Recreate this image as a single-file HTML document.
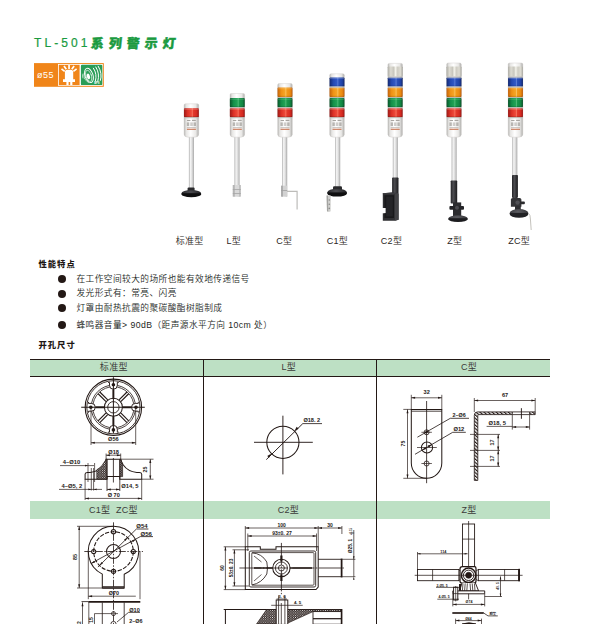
<!DOCTYPE html>
<html lang="zh-CN">
<head>
<meta charset="utf-8">
<title>TL-501系列警示灯</title>
<style>
html,body{margin:0;padding:0;background:#fff;}
body{width:603px;height:624px;position:relative;overflow:hidden;font-family:"Liberation Sans","Noto Sans CJK SC",sans-serif;color:#231815;}
.abs{position:absolute;white-space:nowrap;}
.title{left:34px;top:35px;font-size:12px;line-height:16px;color:#1a9a3f;letter-spacing:3.1px;-webkit-text-stroke:.2px #1a9a3f;}
.title b{font-weight:900;font-size:12.8px;letter-spacing:5.1px;margin-left:0.6px;position:relative;top:.6px;display:inline-block;transform:skewX(-6deg);-webkit-text-stroke:.45px #1a9a3f;}
.badge{left:34px;top:63px;width:70px;height:24px;background:#f08519;}
.badge span{position:absolute;left:3px;top:7px;font-size:9px;line-height:10px;color:#fff;letter-spacing:.2px;}
.lbl{font-size:9px;line-height:12px;top:235px;color:#2a2522;letter-spacing:.3px;font-weight:350;}
.h{font-weight:900;font-size:8.3px;line-height:12px;letter-spacing:1px;color:#1d1714;}
.li{left:76.5px;font-size:8.7px;line-height:12px;letter-spacing:.43px;color:#231f1c;font-weight:350;}
.dot{width:8px;height:8px;border-radius:50%;background:#231815;left:57.8px;margin-top:-.3px;}
.th{height:17px;background:#bde0c4;font-size:9px;line-height:17px;text-align:center;color:#3a3a38;letter-spacing:.3px;}
svg{position:absolute;left:0;top:0;}
svg text{font-family:"Liberation Sans","Noto Sans CJK SC",sans-serif;fill:#231815;}
</style>
</head>
<body>
<div class="abs title">TL-501<b>系列警示灯</b></div>
<div class="abs lbl" style="left:159.7px;width:60px;text-align:center">标准型</div>
<div class="abs lbl" style="left:203.8px;width:60px;text-align:center">L型</div>
<div class="abs lbl" style="left:254.3px;width:60px;text-align:center">C型</div>
<div class="abs lbl" style="left:307.4px;width:60px;text-align:center">C1型</div>
<div class="abs lbl" style="left:361.5px;width:60px;text-align:center">C2型</div>
<div class="abs lbl" style="left:424.8px;width:60px;text-align:center">Z型</div>
<div class="abs lbl" style="left:489.2px;width:60px;text-align:center">ZC型</div>
<div class="abs h" style="left:38.5px;top:258px">性能特点</div>
<div class="abs dot" style="top:275.7px"></div><div class="abs li" style="top:273.2px">在工作空间较大的场所也能有效地传递信号</div>
<div class="abs dot" style="top:289.9px"></div><div class="abs li" style="top:287.4px">发光形式有：常亮、闪亮</div>
<div class="abs dot" style="top:304.3px"></div><div class="abs li" style="top:301.8px">灯罩由耐热抗震的聚碳酸酯树脂制成</div>
<div class="abs dot" style="top:321.7px"></div><div class="abs li" style="top:319.2px">蜂鸣器音量&gt; 90dB（距声源水平方向 10cm 处）</div>
<div class="abs h" style="left:38.5px;top:339px">开孔尺寸</div>
<div class="abs" style="left:30px;top:358.6px;width:520px;height:1.1px;background:#231815"></div>
<div class="abs" style="left:30px;top:375.6px;width:520px;height:1.1px;background:#231815"></div>
<div class="abs th" style="left:30px;top:359.6px;width:520px;height:16px;"></div>
<div class="abs th" style="left:30px;top:501.3px;width:520px;height:17.3px;"></div>
<div class="abs" style="left:202.9px;top:359px;width:1.2px;height:265px;background:#231815"></div>
<div class="abs" style="left:375.59999999999997px;top:359px;width:1.2px;height:265px;background:#231815"></div>
<div class="abs" style="left:63.8px;width:100px;top:361px;font-size:9px;line-height:13px;text-align:center;color:#3b3a39;letter-spacing:.3px">标准型</div>
<div class="abs" style="left:238.8px;width:100px;top:361px;font-size:9px;line-height:13px;text-align:center;color:#3b3a39;letter-spacing:.3px">L型</div>
<div class="abs" style="left:419px;width:100px;top:361px;font-size:9px;line-height:13px;text-align:center;color:#3b3a39;letter-spacing:.3px">C型</div>
<div class="abs" style="left:63.4px;width:100px;top:503.5px;font-size:9px;line-height:13px;text-align:center;color:#3b3a39;letter-spacing:.3px">C1型&nbsp;&nbsp;ZC型</div>
<div class="abs" style="left:238.4px;width:100px;top:503.5px;font-size:9px;line-height:13px;text-align:center;color:#3b3a39;letter-spacing:.3px">C2型</div>
<div class="abs" style="left:419px;width:100px;top:503.5px;font-size:9px;line-height:13px;text-align:center;color:#3b3a39;letter-spacing:.3px">Z型</div>
<svg width="603" height="624" viewBox="0 0 603 624">
<g>
<rect x="34" y="63.1" width="69.8" height="23.7" fill="#f08519"/>
<rect x="58" y="64" width="44.8" height="21.8" fill="#fff"/>
<rect x="58.8" y="64.8" width="20.8" height="20.3" fill="#f08519"/>
<rect x="80.9" y="64.8" width="21.4" height="20.3" rx="1.2" fill="#2a9d57"/>
<g fill="#fff"><path d="M64.9 79.3 V72.2 Q64.9 69.7 67.4 69.7 H70.7 Q73.2 69.7 73.2 72.2 V79.3 H75 V82 H72.4 V84.9 H70.2 V82 H68.6 V84.9 H66.4 V82 H63 V79.3Z"/></g>
<g stroke="#fff" stroke-width="1.7" stroke-linecap="butt"><path d="M69.05 64.9 V69 M66.3 69.3 L64 66 M71.8 69.3 L74.1 66 M64.7 71.3 L61.5 68.8 M73.4 71.3 L76.6 68.8"/></g>
<g fill="none" stroke="#fff" stroke-linecap="round">
<ellipse cx="89" cy="75.4" rx="4" ry="7.4" transform="rotate(-18 89 75.4)" stroke-width=".95"/>
<ellipse cx="88.7" cy="75.8" rx="2.7" ry="5.8" transform="rotate(-18 88.7 75.8)" stroke-width=".6"/>
<ellipse cx="88.4" cy="76.5" rx="1.6" ry="3" transform="rotate(-18 88.4 76.5)" fill="#fff" stroke="none"/>
<path d="M93.4 68.2 Q97.4 74 95.4 81" stroke-width="1"/>
<path d="M95.8 67 Q100 73.6 97.8 81.2" stroke-width="1"/>
<path d="M98.2 66.2 Q102.6 73.4 100.4 80.4" stroke-width="1"/>
<path d="M84.4 73 Q83.2 75.6 84.4 78.6 M82.8 74 Q82 76 82.8 78" stroke-width=".6"/>
<path d="M85 79.2 Q86.6 81.8 88.8 82.6" stroke-width=".6"/>
</g>
<text x="94.2" y="84.4" font-size="2.6" font-weight="bold" style="fill:#fff" stroke="none">BPS</text>
<text x="37" y="78.4" font-size="9" style="fill:#fff" stroke="none" letter-spacing=".5">ø55</text>
</g>
<defs>
<linearGradient id="gBody" x1="0" x2="1" y1="0" y2="0"><stop offset="0" stop-color="#b4b3b1"/><stop offset=".14" stop-color="#e6e5e3"/><stop offset=".45" stop-color="#ffffff"/><stop offset=".8" stop-color="#e9e8e6"/><stop offset="1" stop-color="#adacaa"/></linearGradient>
<linearGradient id="gPole" x1="0" x2="1" y1="0" y2="0"><stop offset="0" stop-color="#a9a9a9"/><stop offset=".28" stop-color="#f6f6f6"/><stop offset=".55" stop-color="#e3e3e3"/><stop offset=".8" stop-color="#c9c9c9"/><stop offset="1" stop-color="#9d9d9d"/></linearGradient>
<linearGradient id="gR" x1="0" x2="1" y1="0" y2="0"><stop offset="0" stop-color="#9c1a17"/><stop offset=".25" stop-color="#dd3126"/><stop offset=".5" stop-color="#ee4a3a"/><stop offset=".56" stop-color="#f7735f"/><stop offset=".62" stop-color="#e53a2c"/><stop offset=".85" stop-color="#d42a21"/><stop offset="1" stop-color="#991815"/></linearGradient>
<linearGradient id="gG" x1="0" x2="1" y1="0" y2="0"><stop offset="0" stop-color="#09552a"/><stop offset=".25" stop-color="#14904a"/><stop offset=".5" stop-color="#22a356"/><stop offset=".56" stop-color="#52bd7b"/><stop offset=".62" stop-color="#199a4c"/><stop offset=".85" stop-color="#128543"/><stop offset="1" stop-color="#095027"/></linearGradient>
<linearGradient id="gO" x1="0" x2="1" y1="0" y2="0"><stop offset="0" stop-color="#c4620a"/><stop offset=".25" stop-color="#ef9215"/><stop offset=".5" stop-color="#f6a526"/><stop offset=".56" stop-color="#fbc462"/><stop offset=".62" stop-color="#f39b18"/><stop offset=".85" stop-color="#e98a12"/><stop offset="1" stop-color="#be5d09"/></linearGradient>
<linearGradient id="gB" x1="0" x2="1" y1="0" y2="0"><stop offset="0" stop-color="#142a72"/><stop offset=".25" stop-color="#2549b2"/><stop offset=".5" stop-color="#3259c6"/><stop offset=".56" stop-color="#5f80d8"/><stop offset=".62" stop-color="#2a50bb"/><stop offset=".85" stop-color="#2143a6"/><stop offset="1" stop-color="#12266a"/></linearGradient>
<linearGradient id="gC" x1="0" x2="1" y1="0" y2="0"><stop offset="0" stop-color="#aeada6"/><stop offset=".2" stop-color="#dddbd2"/><stop offset=".4" stop-color="#c9c7be"/><stop offset=".52" stop-color="#f3f2ea"/><stop offset=".66" stop-color="#cfcdc4"/><stop offset=".85" stop-color="#dedcd3"/><stop offset="1" stop-color="#a9a8a1"/></linearGradient>
<linearGradient id="gBlk" x1="0" x2="1" y1="0" y2="0"><stop offset="0" stop-color="#232326"/><stop offset=".4" stop-color="#4d4d51"/><stop offset="1" stop-color="#1b1b1d"/></linearGradient>
<radialGradient id="gBase" cx=".45" cy=".3" r=".7"><stop offset="0" stop-color="#4f4f54"/><stop offset="1" stop-color="#141416"/></radialGradient>
<radialGradient id="gBase2" cx=".45" cy=".3" r=".75"><stop offset="0" stop-color="#5d5d62"/><stop offset="1" stop-color="#27272a"/></radialGradient>
</defs>

<g>
<rect x="188.9" y="135.2" width="5" height="52.8" fill="url(#gPole)"/>
<path d="M184.1 105.2 Q184.1 103.8 185.5 103.8 H197.3 Q198.7 103.8 198.7 105.2 V134.2 Q198.7 137.2 194.7 137.2 H188.1 Q184.1 137.2 184.1 134.2 Z" fill="url(#gBody)" stroke="#c9c8c5" stroke-width=".4"/>
<rect x="183.95" y="108.2" width="14.9" height="9" rx=".9" fill="url(#gR)"/>
<rect x="184.1" y="108.9" width="14.6" height=".9" fill="#fff" opacity=".2"/>
<rect x="184.1" y="116" width="14.6" height="1.2" fill="#000" opacity=".12"/>
<rect x="184.1" y="117.2" width="14.6" height="1" fill="#b9b8b3"/>
<g fill="#a9a6a2"><rect x="187" y="120" width="3.4" height="1"/><rect x="192" y="119.8" width="3.8" height="1.2"/><rect x="186.8" y="122.4" width="2.4" height="3.6" opacity=".8"/><rect x="190.2" y="122.4" width="2.6" height="3.6" opacity=".55"/><rect x="193.6" y="122.4" width="2.4" height="3.6" opacity=".8"/><rect x="186.9" y="127" width="9" height=".8" opacity=".7"/></g>
<rect x="186.9" y="128.7" width="9" height="1.2" fill="#c6704c" opacity=".9"/>
</g>
<rect x="187.6" y="187.4" width="7" height="4" rx="1" fill="#2a2a2d"/><ellipse cx="191.3" cy="193.3" rx="9.8" ry="3.3" fill="url(#gBase)"/><path d="M181.5 193.3 v.9 a9.8 3 0 0 0 19.6 0 v-.9z" fill="#0f0f10"/>
<g>
<rect x="234.5" y="135.2" width="5" height="61.4" fill="url(#gPole)"/>
<path d="M230 94.9 Q230 93.5 231.4 93.5 H243.2 Q244.6 93.5 244.6 94.9 V134.2 Q244.6 137.2 240.6 137.2 H234 Q230 137.2 230 134.2 Z" fill="url(#gBody)" stroke="#c9c8c5" stroke-width=".4"/>
<rect x="229.85" y="98" width="14.9" height="9.2" rx=".9" fill="url(#gG)"/>
<rect x="230" y="98.7" width="14.6" height=".9" fill="#fff" opacity=".2"/>
<rect x="230" y="106" width="14.6" height="1.2" fill="#000" opacity=".12"/>
<rect x="229.85" y="108.2" width="14.9" height="9" rx=".9" fill="url(#gR)"/>
<rect x="230" y="108.9" width="14.6" height=".9" fill="#fff" opacity=".2"/>
<rect x="230" y="116" width="14.6" height="1.2" fill="#000" opacity=".12"/>
<rect x="230" y="107.2" width="14.6" height="1" fill="#b9b8b3"/>
<rect x="230" y="117.2" width="14.6" height="1" fill="#b9b8b3"/>
<g fill="#a9a6a2"><rect x="232.9" y="120" width="3.4" height="1"/><rect x="237.9" y="119.8" width="3.8" height="1.2"/><rect x="232.7" y="122.4" width="2.4" height="3.6" opacity=".8"/><rect x="236.1" y="122.4" width="2.6" height="3.6" opacity=".55"/><rect x="239.5" y="122.4" width="2.4" height="3.6" opacity=".8"/><rect x="232.8" y="127" width="9" height=".8" opacity=".7"/></g>
<rect x="232.8" y="128.7" width="9" height="1.2" fill="#c6704c" opacity=".9"/>
</g>
<rect x="232.8" y="185" width="8" height="11.6" fill="#d9d9d9"/><rect x="232.8" y="185" width="2" height="11.6" fill="#b5b5b5"/><rect x="239" y="185" width="1.8" height="11.6" fill="#c0c0c0"/><rect x="232.8" y="189" width="8" height=".8" fill="#a5a5a5"/><rect x="232.8" y="193" width="8" height=".8" fill="#a5a5a5"/>
<g>
<rect x="282.2" y="135.2" width="5" height="61.4" fill="url(#gPole)"/>
<path d="M277.7 85 Q277.7 83.6 279.1 83.6 H290.9 Q292.3 83.6 292.3 85 V134.2 Q292.3 137.2 288.3 137.2 H281.7 Q277.7 137.2 277.7 134.2 Z" fill="url(#gBody)" stroke="#c9c8c5" stroke-width=".4"/>
<rect x="277.55" y="87.6" width="14.9" height="9.4" rx=".9" fill="url(#gO)"/>
<rect x="277.7" y="88.3" width="14.6" height=".9" fill="#fff" opacity=".2"/>
<rect x="277.7" y="95.8" width="14.6" height="1.2" fill="#000" opacity=".12"/>
<rect x="277.55" y="98" width="14.9" height="9.2" rx=".9" fill="url(#gG)"/>
<rect x="277.7" y="98.7" width="14.6" height=".9" fill="#fff" opacity=".2"/>
<rect x="277.7" y="106" width="14.6" height="1.2" fill="#000" opacity=".12"/>
<rect x="277.55" y="108.2" width="14.9" height="9" rx=".9" fill="url(#gR)"/>
<rect x="277.7" y="108.9" width="14.6" height=".9" fill="#fff" opacity=".2"/>
<rect x="277.7" y="116" width="14.6" height="1.2" fill="#000" opacity=".12"/>
<rect x="277.7" y="97" width="14.6" height="1" fill="#b9b8b3"/>
<rect x="277.7" y="107.2" width="14.6" height="1" fill="#b9b8b3"/>
<rect x="277.7" y="117.2" width="14.6" height="1" fill="#b9b8b3"/>
<g fill="#a9a6a2"><rect x="280.6" y="120" width="3.4" height="1"/><rect x="285.6" y="119.8" width="3.8" height="1.2"/><rect x="280.4" y="122.4" width="2.4" height="3.6" opacity=".8"/><rect x="283.8" y="122.4" width="2.6" height="3.6" opacity=".55"/><rect x="287.2" y="122.4" width="2.4" height="3.6" opacity=".8"/><rect x="280.5" y="127" width="9" height=".8" opacity=".7"/></g>
<rect x="280.5" y="128.7" width="9" height="1.2" fill="#c6704c" opacity=".9"/>
</g>
<rect x="281.1" y="185.7" width="6.1" height="10.9" fill="#d2d2d2"/><rect x="281.1" y="185.7" width="1.8" height="10.9" fill="#a9a9a9"/><rect x="281.1" y="190" width="6.1" height=".8" fill="#a0a0a0"/><path d="M287 191.3 H297.1 V209.6" fill="none" stroke="#bdbcb9" stroke-width="1.2"/>
<g>
<rect x="335.2" y="135.2" width="5" height="51.8" fill="url(#gPole)"/>
<path d="M329.7 75.2 Q329.7 73.8 331.1 73.8 H342.9 Q344.3 73.8 344.3 75.2 V134.2 Q344.3 137.2 340.3 137.2 H333.7 Q329.7 137.2 329.7 134.2 Z" fill="url(#gBody)" stroke="#c9c8c5" stroke-width=".4"/>
<rect x="329.55" y="77.4" width="14.9" height="9.2" rx=".9" fill="url(#gB)"/>
<rect x="329.7" y="78.1" width="14.6" height=".9" fill="#fff" opacity=".2"/>
<rect x="329.7" y="85.4" width="14.6" height="1.2" fill="#000" opacity=".12"/>
<rect x="329.55" y="87.6" width="14.9" height="9.4" rx=".9" fill="url(#gO)"/>
<rect x="329.7" y="88.3" width="14.6" height=".9" fill="#fff" opacity=".2"/>
<rect x="329.7" y="95.8" width="14.6" height="1.2" fill="#000" opacity=".12"/>
<rect x="329.55" y="98" width="14.9" height="9.2" rx=".9" fill="url(#gG)"/>
<rect x="329.7" y="98.7" width="14.6" height=".9" fill="#fff" opacity=".2"/>
<rect x="329.7" y="106" width="14.6" height="1.2" fill="#000" opacity=".12"/>
<rect x="329.55" y="108.2" width="14.9" height="9" rx=".9" fill="url(#gR)"/>
<rect x="329.7" y="108.9" width="14.6" height=".9" fill="#fff" opacity=".2"/>
<rect x="329.7" y="116" width="14.6" height="1.2" fill="#000" opacity=".12"/>
<rect x="329.7" y="86.6" width="14.6" height="1" fill="#b9b8b3"/>
<rect x="329.7" y="97" width="14.6" height="1" fill="#b9b8b3"/>
<rect x="329.7" y="107.2" width="14.6" height="1" fill="#b9b8b3"/>
<rect x="329.7" y="117.2" width="14.6" height="1" fill="#b9b8b3"/>
<g fill="#a9a6a2"><rect x="332.6" y="120" width="3.4" height="1"/><rect x="337.6" y="119.8" width="3.8" height="1.2"/><rect x="332.4" y="122.4" width="2.4" height="3.6" opacity=".8"/><rect x="335.8" y="122.4" width="2.6" height="3.6" opacity=".55"/><rect x="339.2" y="122.4" width="2.4" height="3.6" opacity=".8"/><rect x="332.5" y="127" width="9" height=".8" opacity=".7"/></g>
<rect x="332.5" y="128.7" width="9" height="1.2" fill="#c6704c" opacity=".9"/>
</g>
<rect x="333" y="186.2" width="9" height="4.4" rx="1.2" fill="#2a2a2d"/><ellipse cx="337.1" cy="192.4" rx="9.8" ry="3.6" fill="url(#gBase)"/><path d="M327.3 192.4 v1 a9.8 3.2 0 0 0 19.6 0 v-1z" fill="#0f0f10"/>
<path d="M326.6 195.4 H330.8 L330.6 211.2 Q328.6 212.4 327 211.2Z" fill="#cfcfcd"/><path d="M326.6 195.4 H328 L328.2 211.6 L327 211.2Z" fill="#a3a3a1"/><circle cx="329.3" cy="200" r=".8" fill="#8a8a88"/><circle cx="329.3" cy="204.3" r=".8" fill="#8a8a88"/><circle cx="329.3" cy="208.4" r=".8" fill="#8a8a88"/>
<g>
<rect x="392.8" y="135.2" width="5" height="42.8" fill="url(#gPole)"/>
<path d="M387.9 64.8 Q387.9 63.4 389.3 63.4 H401.1 Q402.5 63.4 402.5 64.8 V134.2 Q402.5 137.2 398.5 137.2 H391.9 Q387.9 137.2 387.9 134.2 Z" fill="url(#gBody)" stroke="#c9c8c5" stroke-width=".4"/>
<rect x="387.75" y="66.4" width="14.9" height="10.1" rx=".9" fill="url(#gC)"/>
<rect x="387.75" y="77.4" width="14.9" height="9.2" rx=".9" fill="url(#gB)"/>
<rect x="387.9" y="78.1" width="14.6" height=".9" fill="#fff" opacity=".2"/>
<rect x="387.9" y="85.4" width="14.6" height="1.2" fill="#000" opacity=".12"/>
<rect x="387.75" y="87.6" width="14.9" height="9.4" rx=".9" fill="url(#gO)"/>
<rect x="387.9" y="88.3" width="14.6" height=".9" fill="#fff" opacity=".2"/>
<rect x="387.9" y="95.8" width="14.6" height="1.2" fill="#000" opacity=".12"/>
<rect x="387.75" y="98" width="14.9" height="9.2" rx=".9" fill="url(#gG)"/>
<rect x="387.9" y="98.7" width="14.6" height=".9" fill="#fff" opacity=".2"/>
<rect x="387.9" y="106" width="14.6" height="1.2" fill="#000" opacity=".12"/>
<rect x="387.75" y="108.2" width="14.9" height="9" rx=".9" fill="url(#gR)"/>
<rect x="387.9" y="108.9" width="14.6" height=".9" fill="#fff" opacity=".2"/>
<rect x="387.9" y="116" width="14.6" height="1.2" fill="#000" opacity=".12"/>
<rect x="387.9" y="76.5" width="14.6" height="1" fill="#b9b8b3"/>
<rect x="387.9" y="86.6" width="14.6" height="1" fill="#b9b8b3"/>
<rect x="387.9" y="97" width="14.6" height="1" fill="#b9b8b3"/>
<rect x="387.9" y="107.2" width="14.6" height="1" fill="#b9b8b3"/>
<rect x="387.9" y="117.2" width="14.6" height="1" fill="#b9b8b3"/>
<g fill="#a9a6a2"><rect x="390.8" y="120" width="3.4" height="1"/><rect x="395.8" y="119.8" width="3.8" height="1.2"/><rect x="390.6" y="122.4" width="2.4" height="3.6" opacity=".8"/><rect x="394" y="122.4" width="2.6" height="3.6" opacity=".55"/><rect x="397.4" y="122.4" width="2.4" height="3.6" opacity=".8"/><rect x="390.7" y="127" width="9" height=".8" opacity=".7"/></g>
<rect x="390.7" y="128.7" width="9" height="1.2" fill="#c6704c" opacity=".9"/>
</g>
<rect x="392.1" y="177.4" width="6.4" height="16.4" rx=".8" fill="url(#gBlk)"/>
<path d="M382.8 193.2 L392 192.4 L398.6 193.4 V219.8 L394.8 220.8 H382.8 V213.2 H385.6 V207.9 H382.8Z" fill="#2f2f32"/><path d="M394.8 193.6 L398.6 193.4 V219.8 L394.8 220.8Z" fill="#434346"/><path d="M384.4 195.2 H394 V218 H384.4 V213.2 H386.6 V207.9 H384.4Z" fill="#19191b"/><path d="M386.2 196.6 H392.8 V216.4 H386.2Z" fill="#242427"/><path d="M382.8 193.2 L392 192.4 L398.6 193.4 L394.8 194.2 H382.8Z" fill="#3c3c40"/>
<g>
<rect x="451.6" y="135.2" width="5" height="46.8" fill="url(#gPole)"/>
<path d="M446.7 64.4 Q446.7 63 448.1 63 H459.9 Q461.3 63 461.3 64.4 V134.2 Q461.3 137.2 457.3 137.2 H450.7 Q446.7 137.2 446.7 134.2 Z" fill="url(#gBody)" stroke="#c9c8c5" stroke-width=".4"/>
<rect x="446.55" y="66.4" width="14.9" height="10.1" rx=".9" fill="url(#gC)"/>
<rect x="446.55" y="77.4" width="14.9" height="9.2" rx=".9" fill="url(#gB)"/>
<rect x="446.7" y="78.1" width="14.6" height=".9" fill="#fff" opacity=".2"/>
<rect x="446.7" y="85.4" width="14.6" height="1.2" fill="#000" opacity=".12"/>
<rect x="446.55" y="87.6" width="14.9" height="9.4" rx=".9" fill="url(#gO)"/>
<rect x="446.7" y="88.3" width="14.6" height=".9" fill="#fff" opacity=".2"/>
<rect x="446.7" y="95.8" width="14.6" height="1.2" fill="#000" opacity=".12"/>
<rect x="446.55" y="98" width="14.9" height="9.2" rx=".9" fill="url(#gG)"/>
<rect x="446.7" y="98.7" width="14.6" height=".9" fill="#fff" opacity=".2"/>
<rect x="446.7" y="106" width="14.6" height="1.2" fill="#000" opacity=".12"/>
<rect x="446.55" y="108.2" width="14.9" height="9" rx=".9" fill="url(#gR)"/>
<rect x="446.7" y="108.9" width="14.6" height=".9" fill="#fff" opacity=".2"/>
<rect x="446.7" y="116" width="14.6" height="1.2" fill="#000" opacity=".12"/>
<rect x="446.7" y="76.5" width="14.6" height="1" fill="#b9b8b3"/>
<rect x="446.7" y="86.6" width="14.6" height="1" fill="#b9b8b3"/>
<rect x="446.7" y="97" width="14.6" height="1" fill="#b9b8b3"/>
<rect x="446.7" y="107.2" width="14.6" height="1" fill="#b9b8b3"/>
<rect x="446.7" y="117.2" width="14.6" height="1" fill="#b9b8b3"/>
<g fill="#a9a6a2"><rect x="449.6" y="120" width="3.4" height="1"/><rect x="454.6" y="119.8" width="3.8" height="1.2"/><rect x="449.4" y="122.4" width="2.4" height="3.6" opacity=".8"/><rect x="452.8" y="122.4" width="2.6" height="3.6" opacity=".55"/><rect x="456.2" y="122.4" width="2.4" height="3.6" opacity=".8"/><rect x="449.5" y="127" width="9" height=".8" opacity=".7"/></g>
<rect x="449.5" y="128.7" width="9" height="1.2" fill="#c6704c" opacity=".9"/>
</g>
<rect x="450.7" y="180.5" width="6.5" height="23" rx=".8" fill="url(#gBlk)"/><path d="M453 202.4 H461.2 V216 H453Z" fill="#2c2c2f"/><rect x="449.4" y="206" width="14.6" height="3.7" rx="1" fill="#242427"/><circle cx="457" cy="207.8" r="2" fill="#4a4a4f"/><ellipse cx="458" cy="218.3" rx="9.6" ry="3" fill="url(#gBase2)"/><path d="M448.4 218.3 v1 a9.6 2.8 0 0 0 19.2 0 v-1z" fill="#1c1c1f"/>
<g>
<rect x="512.3" y="135.2" width="5" height="41.3" fill="url(#gPole)"/>
<path d="M508.2 64.4 Q508.2 63 509.6 63 H521.4 Q522.8 63 522.8 64.4 V134.2 Q522.8 137.2 518.8 137.2 H512.2 Q508.2 137.2 508.2 134.2 Z" fill="url(#gBody)" stroke="#c9c8c5" stroke-width=".4"/>
<rect x="508.05" y="66.4" width="14.9" height="10.1" rx=".9" fill="url(#gC)"/>
<rect x="508.05" y="77.4" width="14.9" height="9.2" rx=".9" fill="url(#gB)"/>
<rect x="508.2" y="78.1" width="14.6" height=".9" fill="#fff" opacity=".2"/>
<rect x="508.2" y="85.4" width="14.6" height="1.2" fill="#000" opacity=".12"/>
<rect x="508.05" y="87.6" width="14.9" height="9.4" rx=".9" fill="url(#gO)"/>
<rect x="508.2" y="88.3" width="14.6" height=".9" fill="#fff" opacity=".2"/>
<rect x="508.2" y="95.8" width="14.6" height="1.2" fill="#000" opacity=".12"/>
<rect x="508.05" y="98" width="14.9" height="9.2" rx=".9" fill="url(#gG)"/>
<rect x="508.2" y="98.7" width="14.6" height=".9" fill="#fff" opacity=".2"/>
<rect x="508.2" y="106" width="14.6" height="1.2" fill="#000" opacity=".12"/>
<rect x="508.05" y="108.2" width="14.9" height="9" rx=".9" fill="url(#gR)"/>
<rect x="508.2" y="108.9" width="14.6" height=".9" fill="#fff" opacity=".2"/>
<rect x="508.2" y="116" width="14.6" height="1.2" fill="#000" opacity=".12"/>
<rect x="508.2" y="76.5" width="14.6" height="1" fill="#b9b8b3"/>
<rect x="508.2" y="86.6" width="14.6" height="1" fill="#b9b8b3"/>
<rect x="508.2" y="97" width="14.6" height="1" fill="#b9b8b3"/>
<rect x="508.2" y="107.2" width="14.6" height="1" fill="#b9b8b3"/>
<rect x="508.2" y="117.2" width="14.6" height="1" fill="#b9b8b3"/>
<g fill="#a9a6a2"><rect x="511.1" y="120" width="3.4" height="1"/><rect x="516.1" y="119.8" width="3.8" height="1.2"/><rect x="510.9" y="122.4" width="2.4" height="3.6" opacity=".8"/><rect x="514.3" y="122.4" width="2.6" height="3.6" opacity=".55"/><rect x="517.7" y="122.4" width="2.4" height="3.6" opacity=".8"/><rect x="511" y="127" width="9" height=".8" opacity=".7"/></g>
<rect x="511" y="128.7" width="9" height="1.2" fill="#c6704c" opacity=".9"/>
</g>
<rect x="512" y="174.9" width="5.9" height="23" rx=".8" fill="url(#gBlk)"/><path d="M510.9 199.6 Q510.9 198 512.6 198 H519.6 Q521.4 198 521.4 199.8 V206.8 H510.9Z" fill="#343437"/><rect x="519" y="201.4" width="5.8" height="2.8" rx=".8" fill="#2a2a2d"/><circle cx="517.6" cy="202.6" r="2.2" fill="#505055"/><path d="M515 206 H520.8 V212 H515Z" fill="#2e2e31"/><ellipse cx="519" cy="213.1" rx="9.3" ry="4" fill="url(#gBase2)"/><path d="M509.7 213.1 v1 a9.3 3.6 0 0 0 18.6 0 v-1z" fill="#222225"/><path d="M528.6 213.6 Q530.4 214.6 530.4 219 L531.2 230" fill="none" stroke="#c4c2bc" stroke-width="1"/>

<defs><pattern id="hx" width="2.3" height="2.3" patternUnits="userSpaceOnUse"><rect width="2.3" height="2.3" fill="#231815"/><g fill="#fff"><circle cx="0" cy="0" r=".5"/><circle cx="2.3" cy="0" r=".5"/><circle cx="0" cy="2.3" r=".5"/><circle cx="2.3" cy="2.3" r=".5"/><circle cx="1.15" cy="1.15" r=".5"/></g></pattern>
<pattern id="hd" width="2.6" height="2.6" patternUnits="userSpaceOnUse" patternTransform="rotate(-50)"><rect width="2.6" height="2.6" fill="#fff"/><rect width="1.2" height="2.6" fill="#231815"/></pattern></defs>
<g stroke="#231815" fill="none" stroke-linecap="butt">
<circle cx="113.4" cy="407.3" r="22.2" fill="none" stroke-width="0.81"/>
<circle cx="113.4" cy="407.3" r="20.6" fill="none" stroke-width="0.81"/>
<circle cx="113.4" cy="407.3" r="9" fill="none" stroke-width="1.01"/>
<circle cx="113.4" cy="407.3" r="5.7" fill="none" stroke-width="0.88"/>
<line x1="120.75" y1="412.96" x2="128.67" y2="420.88" stroke-width="1.15"/>
<line x1="119.06" y1="414.65" x2="126.98" y2="422.57" stroke-width="1.15"/>
<line x1="107.74" y1="414.65" x2="99.82" y2="422.57" stroke-width="1.15"/>
<line x1="106.05" y1="412.96" x2="98.13" y2="420.88" stroke-width="1.15"/>
<line x1="106.05" y1="401.64" x2="98.13" y2="393.72" stroke-width="1.15"/>
<line x1="107.74" y1="399.95" x2="99.82" y2="392.03" stroke-width="1.15"/>
<line x1="119.06" y1="399.95" x2="126.98" y2="392.03" stroke-width="1.15"/>
<line x1="120.75" y1="401.64" x2="128.67" y2="393.72" stroke-width="1.15"/>
<g transform="rotate(0 113.4 407.3)">
<line x1="122.4" y1="407.3" x2="131.4" y2="407.3" stroke-width="1.89"/>
<path d="M138.3 401.9 V403.4 H135.4 A3.9 3.9 0 0 0 135.4 411.2 H138.3 V412.7" fill="#fff" stroke-width="0.94"/>
<circle cx="136" cy="407.3" r="1.8" fill="#231815" stroke="none"/>
</g>
<g transform="rotate(90 113.4 407.3)">
<line x1="122.4" y1="407.3" x2="131.4" y2="407.3" stroke-width="1.89"/>
<path d="M138.3 401.9 V403.4 H135.4 A3.9 3.9 0 0 0 135.4 411.2 H138.3 V412.7" fill="#fff" stroke-width="0.94"/>
<circle cx="136" cy="407.3" r="1.8" fill="#231815" stroke="none"/>
</g>
<g transform="rotate(180 113.4 407.3)">
<line x1="122.4" y1="407.3" x2="131.4" y2="407.3" stroke-width="1.89"/>
<path d="M138.3 401.9 V403.4 H135.4 A3.9 3.9 0 0 0 135.4 411.2 H138.3 V412.7" fill="#fff" stroke-width="0.94"/>
<circle cx="136" cy="407.3" r="1.8" fill="#231815" stroke="none"/>
</g>
<g transform="rotate(270 113.4 407.3)">
<line x1="122.4" y1="407.3" x2="131.4" y2="407.3" stroke-width="1.89"/>
<path d="M138.3 401.9 V403.4 H135.4 A3.9 3.9 0 0 0 135.4 411.2 H138.3 V412.7" fill="#fff" stroke-width="0.94"/>
<circle cx="136" cy="407.3" r="1.8" fill="#231815" stroke="none"/>
</g>
<circle cx="113.4" cy="407.3" r="28.2" fill="none" stroke-width="1.08"/>
<circle cx="113.4" cy="407.3" r="26.6" fill="none" stroke-width="0.88"/>
<line x1="81.2" y1="407.3" x2="144.8" y2="407.3" stroke-width="1.01"/>
<line x1="113.4" y1="377.3" x2="113.4" y2="433.5" stroke-width="1.01"/>
<line x1="91" y1="407.3" x2="91" y2="445" stroke-width="0.68"/>
<line x1="135.7" y1="407.3" x2="135.7" y2="445" stroke-width="0.68"/>
<line x1="91" y1="442.8" x2="135.7" y2="442.8" stroke-width="0.68"/>
<path d="M91 442.8 L94.8 441.8 L94.8 443.8Z" fill="#231815" stroke="none"/>
<path d="M135.7 442.8 L131.9 443.8 L131.9 441.8Z" fill="#231815" stroke="none"/>
<text x="113.4" y="441.4" font-size="5.6" text-anchor="middle" stroke="none" font-weight="bold">Ø56</text>
<path d="M85.1 479.2 V474 Q85.3 472.4 87.5 472.4 H90 Q99 471.5 103.5 465 Q105.6 461.5 106.1 459.2 H120.7 Q121.2 461.5 123.3 465 Q127.8 471.5 136.8 472.4 H139.3 Q141.5 472.4 141.7 474 V479.2 H119.8 V476.6 H107 V479.2 Z" fill="#fff" stroke-width="1.01"/>
<path d="M96.8 479.2 V469.8 Q102 467 104 462.5 Q105.6 460.5 106.1 459.2 H107 V476.6 V479.2Z" fill="url(#hx)" stroke-width="0.68"/>
<path d="M119.8 476.6 V459.2 H120.7 Q121.2 461.5 122.6 464 V476.6Z" fill="url(#hx)" stroke-width="0.68"/>
<line x1="107" y1="459.2" x2="107" y2="491" stroke-width="0.81"/>
<line x1="119.8" y1="459.2" x2="119.8" y2="491" stroke-width="0.81"/>
<line x1="113.4" y1="458" x2="113.4" y2="482.5" stroke-width="0.81"/>
<line x1="120.7" y1="459.2" x2="153.5" y2="459.2" stroke-width="0.68"/>
<line x1="141.7" y1="479.2" x2="153.5" y2="479.2" stroke-width="0.68"/>
<line x1="150.3" y1="459.2" x2="150.3" y2="479.2" stroke-width="0.68"/>
<path d="M150.3 459.2 L151.3 463 L149.3 463Z" fill="#231815" stroke="none"/>
<path d="M150.3 479.2 L149.3 475.4 L151.3 475.4Z" fill="#231815" stroke="none"/>
<text x="147.4" y="469.4" font-size="5.4" text-anchor="middle" stroke="none" transform="rotate(-90 147.4 469.4)" font-weight="bold">25</text>
<line x1="106.1" y1="453.5" x2="106.1" y2="459" stroke-width="0.68"/>
<line x1="120.7" y1="453.5" x2="120.7" y2="459" stroke-width="0.68"/>
<line x1="106.1" y1="455.2" x2="120.7" y2="455.2" stroke-width="0.68"/>
<path d="M106.1 455.2 L109.9 454.2 L109.9 456.2Z" fill="#231815" stroke="none"/>
<path d="M120.7 455.2 L116.9 456.2 L116.9 454.2Z" fill="#231815" stroke="none"/>
<text x="113.6" y="453.8" font-size="5.6" text-anchor="middle" stroke="none" font-weight="bold">Ø18</text>
<text x="62.8" y="464.2" font-size="5.8" text-anchor="start" stroke="none" font-weight="bold">4–Ø10</text>
<line x1="60" y1="465.6" x2="94" y2="465.6" stroke-width="0.68"/>
<path d="M88 465.6 L85 466.4 L85 464.8Z" fill="#231815" stroke="none"/>
<line x1="88" y1="463" x2="88" y2="482" stroke-width="0.68"/>
<line x1="94.6" y1="463" x2="94.6" y2="482" stroke-width="0.68"/>
<line x1="91.3" y1="468" x2="91.3" y2="490.5" stroke-width="0.68"/>
<line x1="93.6" y1="468" x2="93.6" y2="490.5" stroke-width="0.68"/>
<text x="61.6" y="487.8" font-size="5.8" text-anchor="start" stroke="none" font-weight="bold">4–Ø5, 2</text>
<line x1="59" y1="489.4" x2="102" y2="489.4" stroke-width="0.68"/>
<path d="M91.3 489.4 L88.3 490.2 L88.3 488.6Z" fill="#231815" stroke="none"/>
<path d="M93.6 489.4 L96.6 488.6 L96.6 490.2Z" fill="#231815" stroke="none"/>
<text x="121.2" y="487.6" font-size="5.8" text-anchor="start" stroke="none" font-weight="bold">Ø14, 5</text>
<line x1="107" y1="489.4" x2="119.8" y2="489.4" stroke-width="0.68"/>
<path d="M107 489.4 L110.8 488.4 L110.8 490.4Z" fill="#231815" stroke="none"/>
<path d="M119.8 489.4 L116 490.4 L116 488.4Z" fill="#231815" stroke="none"/>
<line x1="85.1" y1="479.2" x2="85.1" y2="500" stroke-width="0.68"/>
<line x1="141.7" y1="479.2" x2="141.7" y2="500" stroke-width="0.68"/>
<line x1="85.1" y1="498.4" x2="141.7" y2="498.4" stroke-width="0.68"/>
<path d="M85.1 498.4 L88.9 497.4 L88.9 499.4Z" fill="#231815" stroke="none"/>
<path d="M141.7 498.4 L137.9 499.4 L137.9 497.4Z" fill="#231815" stroke="none"/>
<text x="113.8" y="497" font-size="5.6" text-anchor="middle" stroke="none" font-weight="bold">Ø 70</text>
<circle cx="282.9" cy="442.3" r="16.1" fill="none" stroke-width="1.01"/>
<line x1="254" y1="442.3" x2="312.8" y2="442.3" stroke-width="0.94"/>
<line x1="282.9" y1="415.7" x2="282.9" y2="474.4" stroke-width="0.94"/>
<line x1="266.3" y1="459.6" x2="302.8" y2="423.6" stroke-width="0.94"/>
<line x1="302.8" y1="423.6" x2="322" y2="423.6" stroke-width="0.81"/>
<path d="M294.36 431 L296.73 426.84 L298.55 428.69Z" fill="#231815" stroke="none"/>
<path d="M271.44 453.6 L269.07 457.76 L267.25 455.91Z" fill="#231815" stroke="none"/>
<text x="303.4" y="422.2" font-size="5.6" text-anchor="start" stroke="none" font-weight="bold">Ø18. 2</text>
<path d="M411.3 409.4 H441.8 V463 A15.25 15.25 0 0 1 411.3 463 Z" fill="none" stroke-width="1.01"/>
<line x1="411.3" y1="411.2" x2="441.8" y2="411.2" stroke-width="0.81"/>
<line x1="411.3" y1="394.8" x2="411.3" y2="409.4" stroke-width="0.68"/>
<line x1="441.8" y1="394.8" x2="441.8" y2="409.4" stroke-width="0.68"/>
<line x1="411.3" y1="397.8" x2="441.8" y2="397.8" stroke-width="0.68"/>
<path d="M411.3 397.8 L415.1 396.8 L415.1 398.8Z" fill="#231815" stroke="none"/>
<path d="M441.8 397.8 L438 398.8 L438 396.8Z" fill="#231815" stroke="none"/>
<text x="426.7" y="394.4" font-size="5.6" text-anchor="middle" stroke="none" font-weight="bold">32</text>
<line x1="426.6" y1="401" x2="426.6" y2="483.2" stroke-width="0.81"/>
<line x1="403.3" y1="409.4" x2="411.3" y2="409.4" stroke-width="0.68"/>
<line x1="403.3" y1="478.3" x2="427" y2="478.3" stroke-width="0.68"/>
<line x1="407.5" y1="409.4" x2="407.5" y2="478.3" stroke-width="0.68"/>
<path d="M407.5 409.4 L408.5 413.2 L406.5 413.2Z" fill="#231815" stroke="none"/>
<path d="M407.5 478.3 L406.5 474.5 L408.5 474.5Z" fill="#231815" stroke="none"/>
<text x="405" y="443.5" font-size="5.2" text-anchor="middle" stroke="none" transform="rotate(-90 405 443.5)" font-weight="bold">75</text>
<circle cx="426.6" cy="432.3" r="2.5" fill="none" stroke-width="0.81"/>
<circle cx="427" cy="447.5" r="5.6" fill="none" stroke-width="1.01"/>
<circle cx="426.6" cy="463.5" r="2.5" fill="none" stroke-width="0.81"/>
<line x1="421.4" y1="432.3" x2="431.9" y2="432.3" stroke-width="0.68"/>
<line x1="417" y1="447.5" x2="436.8" y2="447.5" stroke-width="0.68"/>
<line x1="421.4" y1="463.5" x2="431.9" y2="463.5" stroke-width="0.68"/>
<line x1="417.4" y1="437.2" x2="450.3" y2="418.3" stroke-width="0.81"/>
<line x1="450.3" y1="418.3" x2="469" y2="418.3" stroke-width="0.81"/>
<path d="M424.4 433.3 L427.45 430.17 L428.64 432.25Z" fill="#231815" stroke="none"/>
<path d="M428.9 430.6 L425.85 433.73 L424.66 431.65Z" fill="#231815" stroke="none"/>
<text x="452.6" y="416.6" font-size="5.4" text-anchor="start" stroke="none" font-weight="bold">2–Ø6</text>
<line x1="415" y1="454.3" x2="452.7" y2="432.3" stroke-width="0.81"/>
<line x1="452.7" y1="432.3" x2="465.8" y2="432.3" stroke-width="0.81"/>
<path d="M422.1 450.2 L425.12 447.04 L426.33 449.12Z" fill="#231815" stroke="none"/>
<path d="M431.9 444.5 L428.88 447.66 L427.67 445.58Z" fill="#231815" stroke="none"/>
<text x="453.4" y="430.8" font-size="5.8" text-anchor="start" stroke="none" font-weight="bold">Ø12</text>
<path d="M474.3 480.4 V415.2 Q474.3 411.9 477.6 411.9 H512.3 V414.6 H478.6 Q477.8 414.6 477.8 415.6 V480.4 Z" fill="url(#hd)" stroke-width="0.81"/>
<path d="M529.6 411.9 H535.2 V414.6 H529.6Z" fill="url(#hd)" stroke-width="0.81"/>
<line x1="512.3" y1="411.9" x2="529.6" y2="411.9" stroke-width="0.81"/>
<line x1="512.3" y1="414.6" x2="529.6" y2="414.6" stroke-width="0.81"/>
<line x1="474.3" y1="398" x2="474.3" y2="412" stroke-width="0.68"/>
<line x1="535.2" y1="398" x2="535.2" y2="412" stroke-width="0.68"/>
<line x1="474.3" y1="400.5" x2="535.2" y2="400.5" stroke-width="0.68"/>
<path d="M474.3 400.5 L478.1 399.5 L478.1 401.5Z" fill="#231815" stroke="none"/>
<path d="M535.2 400.5 L531.4 401.5 L531.4 399.5Z" fill="#231815" stroke="none"/>
<text x="505" y="397.2" font-size="5.6" text-anchor="middle" stroke="none" font-weight="bold">67</text>
<line x1="512.3" y1="414.6" x2="512.3" y2="429.6" stroke-width="0.68"/>
<line x1="529.6" y1="414.6" x2="529.6" y2="429.6" stroke-width="0.68"/>
<line x1="512.3" y1="427" x2="529.6" y2="427" stroke-width="0.68"/>
<path d="M512.3 427 L516.1 426 L516.1 428Z" fill="#231815" stroke="none"/>
<path d="M529.6 427 L525.8 428 L525.8 426Z" fill="#231815" stroke="none"/>
<line x1="521.4" y1="408.2" x2="521.4" y2="418.8" stroke-width="0.94"/>
<text x="488.6" y="424.6" font-size="5.8" text-anchor="start" stroke="none" font-weight="bold">Ø18, 5</text>
<line x1="486.6" y1="426.4" x2="512.3" y2="426.4" stroke-width="0.68"/>
<line x1="470" y1="434.4" x2="500" y2="434.4" stroke-width="0.68"/>
<line x1="470" y1="450.4" x2="500" y2="450.4" stroke-width="0.68"/>
<line x1="470" y1="466.4" x2="500" y2="466.4" stroke-width="0.68"/>
<line x1="498.2" y1="434.4" x2="498.2" y2="450.4" stroke-width="0.68"/>
<path d="M498.2 434.4 L499.2 438.2 L497.2 438.2Z" fill="#231815" stroke="none"/>
<path d="M498.2 450.4 L497.2 446.6 L499.2 446.6Z" fill="#231815" stroke="none"/>
<line x1="498.2" y1="450.4" x2="498.2" y2="466.4" stroke-width="0.68"/>
<path d="M498.2 450.4 L499.2 454.2 L497.2 454.2Z" fill="#231815" stroke="none"/>
<path d="M498.2 466.4 L497.2 462.6 L499.2 462.6Z" fill="#231815" stroke="none"/>
<text x="494.4" y="442.4" font-size="5.6" text-anchor="middle" stroke="none" transform="rotate(-90 494.4 442.4)" font-weight="bold">17</text>
<text x="494.4" y="458.4" font-size="5.6" text-anchor="middle" stroke="none" transform="rotate(-90 494.4 458.4)" font-weight="bold">17</text>
<path d="M102.3 588 V574.1 A25.2 25.2 0 1 1 124.2 574.3 V588 Z" fill="none" stroke-width="1.01"/>
<line x1="102.3" y1="586.6" x2="124.2" y2="586.6" stroke-width="0.81"/>
<line x1="102.3" y1="588" x2="124.2" y2="588" stroke-width="1.22"/>
<circle cx="113.5" cy="551.5" r="19.8" fill="none" stroke-width="1.08" stroke-dasharray="4.2 1.4"/>
<circle cx="113.5" cy="551.5" r="7" fill="none" stroke-width="1.01"/>
<circle cx="133.3" cy="551.5" r="2.1" fill="none" stroke-width="1.01"/>
<circle cx="113.5" cy="571.3" r="2.1" fill="none" stroke-width="1.01"/>
<circle cx="93.7" cy="551.5" r="2.1" fill="none" stroke-width="1.01"/>
<circle cx="113.5" cy="531.7" r="2.1" fill="none" stroke-width="1.01"/>
<line x1="113.5" y1="522.3" x2="113.5" y2="624" stroke-width="0.81" stroke-dasharray="7 1.5 1.5 1.5"/>
<line x1="84.3" y1="551.5" x2="143" y2="551.5" stroke-width="0.81" stroke-dasharray="7 1.5 1.5 1.5"/>
<line x1="77" y1="526.3" x2="113.5" y2="526.3" stroke-width="0.68"/>
<line x1="77" y1="588" x2="102.3" y2="588" stroke-width="0.68"/>
<line x1="79.2" y1="526.3" x2="79.2" y2="588" stroke-width="0.68"/>
<path d="M79.2 526.3 L80.2 530.1 L78.2 530.1Z" fill="#231815" stroke="none"/>
<path d="M79.2 588 L78.2 584.2 L80.2 584.2Z" fill="#231815" stroke="none"/>
<text x="77" y="557" font-size="5.4" text-anchor="middle" stroke="none" transform="rotate(-90 77 557)" font-weight="bold">85</text>
<line x1="97.9" y1="567.1" x2="136.4" y2="529" stroke-width="0.81"/>
<line x1="136.4" y1="529" x2="148.4" y2="529" stroke-width="0.81"/>
<path d="M127.5 537.5 L125.56 540.93 L124.07 539.44Z" fill="#231815" stroke="none"/>
<path d="M99.5 565.5 L101.44 562.07 L102.93 563.56Z" fill="#231815" stroke="none"/>
<text x="136.3" y="527.9" font-size="6.0" text-anchor="start" stroke="none" font-weight="bold">Ø54</text>
<line x1="91.3" y1="563.3" x2="140.3" y2="536.6" stroke-width="0.81"/>
<line x1="140.3" y1="536.6" x2="153" y2="536.6" stroke-width="0.81"/>
<path d="M135.7 539.5 L132.86 542.24 L131.86 540.39Z" fill="#231815" stroke="none"/>
<path d="M91.3 563.5 L94.14 560.76 L95.14 562.61Z" fill="#231815" stroke="none"/>
<text x="140.5" y="535.5" font-size="6.0" text-anchor="start" stroke="none" font-weight="bold">Ø56</text>
<line x1="88.3" y1="551.5" x2="88.3" y2="599.2" stroke-width="0.68"/>
<line x1="140" y1="551.5" x2="140" y2="599.2" stroke-width="0.68"/>
<line x1="88.3" y1="596.2" x2="135.8" y2="596.2" stroke-width="0.68"/>
<path d="M88.3 596.2 L92.1 595.2 L92.1 597.2Z" fill="#231815" stroke="none"/>
<text x="113.8" y="595.2" font-size="5.4" text-anchor="middle" stroke="none" font-weight="bold">Ø70</text>
<line x1="88.3" y1="601.9" x2="140.3" y2="601.9" stroke-width="1.89"/>
<line x1="81.5" y1="601.6" x2="88.3" y2="601.6" stroke-width="0.81"/>
<line x1="88.8" y1="602.4" x2="88.8" y2="624" stroke-width="0.68"/>
<line x1="102.3" y1="602.4" x2="102.3" y2="624" stroke-width="0.81"/>
<line x1="124.2" y1="602.4" x2="124.2" y2="624" stroke-width="0.81"/>
<line x1="82.5" y1="602.4" x2="82.5" y2="624" stroke-width="0.68"/>
<path d="M82.5 602.4 L83.5 606.2 L81.5 606.2Z" fill="#231815" stroke="none"/>
<circle cx="113.5" cy="613.6" r="2" fill="none" stroke-width="0.81"/>
<circle cx="113.5" cy="624" r="2.6" fill="none" stroke-width="0.81"/>
<line x1="94.5" y1="613.6" x2="118" y2="613.6" stroke-width="0.68"/>
<line x1="94.5" y1="613.6" x2="94.5" y2="624" stroke-width="0.68"/>
<line x1="117" y1="622" x2="128.5" y2="612.4" stroke-width="0.74"/>
<line x1="128.5" y1="612.4" x2="140" y2="612.4" stroke-width="0.74"/>
<text x="129.2" y="611.6" font-size="5.6" text-anchor="start" stroke="none" font-weight="bold">Ø10</text>
<text x="129.2" y="623" font-size="5.4" text-anchor="start" stroke="none" font-weight="bold">2–Ø6</text>
<text x="93" y="620" font-size="5.0" text-anchor="middle" stroke="none" transform="rotate(-90 93 620)" font-weight="bold">15</text>
<text x="81" y="624" font-size="5.0" text-anchor="middle" stroke="none" transform="rotate(-90 81 624)" font-weight="bold">32</text>
<path d="M245.3 546.8 H260.3 V549.3 H276 V546.8 H318.2 V587 L316 589.6 H245.3 Z" fill="none" stroke-width="1.01"/>
<rect x="249.3" y="551" width="66.4" height="36" rx="1.6" fill="none" stroke-width="0.88"/>
<rect x="251.8" y="552.6" width="62.2" height="32.6" rx="1" fill="none" stroke-width="0.74"/>
<path d="M251.8 552.8 Q262 553.5 266.8 562 Q268.2 568 266.8 574 Q262 583 251.8 585" fill="none" stroke-width="0.81"/>
<path d="M254 556 L261.5 562 M254 581 L261.5 574.5" fill="none" stroke-width="0.68"/>
<circle cx="281.4" cy="568" r="8.7" fill="none" stroke-width="1.01"/>
<circle cx="281.4" cy="568" r="6" fill="none" stroke-width="0.81"/>
<circle cx="281.4" cy="568" r="3" fill="none" stroke-width="0.81"/>
<line x1="239.4" y1="568" x2="344.6" y2="568" stroke-width="0.81" stroke-dasharray="22 1.5 1.5 1.5"/>
<line x1="281.4" y1="542.9" x2="281.4" y2="594.2" stroke-width="0.81" stroke-dasharray="22 1.5 1.5 1.5"/>
<line x1="281.4" y1="555.5" x2="281.4" y2="561.5" stroke-width="2.16"/>
<line x1="281.4" y1="574.5" x2="281.4" y2="581" stroke-width="2.16"/>
<line x1="254" y1="568" x2="272.6" y2="568" stroke-width="1.49"/>
<line x1="290.2" y1="568" x2="312" y2="568" stroke-width="1.49"/>
<path d="M318.2 559.3 H341.4 M318.2 576.7 H341.4" fill="none" stroke-width="0.88"/>
<line x1="341.6" y1="558.6" x2="341.6" y2="577.4" stroke-width="1.76"/>
<line x1="245.3" y1="526" x2="245.3" y2="546.8" stroke-width="0.68"/>
<line x1="318.2" y1="526" x2="318.2" y2="546.8" stroke-width="0.68"/>
<line x1="341.9" y1="526" x2="341.9" y2="534" stroke-width="0.68"/>
<line x1="245.3" y1="528" x2="318.2" y2="528" stroke-width="0.68"/>
<path d="M245.3 528 L249.1 527 L249.1 529Z" fill="#231815" stroke="none"/>
<path d="M318.2 528 L314.4 529 L314.4 527Z" fill="#231815" stroke="none"/>
<line x1="318.2" y1="528" x2="341.9" y2="528" stroke-width="0.68"/>
<path d="M318.2 528 L322 527 L322 529Z" fill="#231815" stroke="none"/>
<path d="M341.9 528 L338.1 529 L338.1 527Z" fill="#231815" stroke="none"/>
<text x="281.7" y="526.8" font-size="5.0" text-anchor="middle" stroke="none" font-weight="bold">100</text>
<text x="330" y="526.8" font-size="5.0" text-anchor="middle" stroke="none" font-weight="bold">30</text>
<line x1="247.8" y1="533.5" x2="247.8" y2="551" stroke-width="0.68"/>
<line x1="316.5" y1="533.5" x2="316.5" y2="551" stroke-width="0.68"/>
<line x1="247.8" y1="536" x2="316.5" y2="536" stroke-width="0.68"/>
<path d="M247.8 536 L251.6 535 L251.6 537Z" fill="#231815" stroke="none"/>
<path d="M316.5 536 L312.7 537 L312.7 535Z" fill="#231815" stroke="none"/>
<text x="282" y="534.9" font-size="5.0" text-anchor="middle" stroke="none" font-weight="bold">93±0. 27</text>
<line x1="223.7" y1="546.8" x2="245.3" y2="546.8" stroke-width="0.68"/>
<line x1="223.7" y1="589.6" x2="245.3" y2="589.6" stroke-width="0.68"/>
<line x1="225.4" y1="546.8" x2="225.4" y2="589.6" stroke-width="0.68"/>
<path d="M225.4 546.8 L226.4 550.6 L224.4 550.6Z" fill="#231815" stroke="none"/>
<path d="M225.4 589.6 L224.4 585.8 L226.4 585.8Z" fill="#231815" stroke="none"/>
<text x="223.8" y="568" font-size="4.8" text-anchor="middle" stroke="none" transform="rotate(-90 223.8 568)" font-weight="bold">60</text>
<line x1="232.5" y1="549.8" x2="249" y2="549.8" stroke-width="0.68"/>
<line x1="232.5" y1="586" x2="249" y2="586" stroke-width="0.68"/>
<line x1="234.4" y1="549.8" x2="234.4" y2="586" stroke-width="0.68"/>
<path d="M234.4 549.8 L235.4 553.6 L233.4 553.6Z" fill="#231815" stroke="none"/>
<path d="M234.4 586 L233.4 582.2 L235.4 582.2Z" fill="#231815" stroke="none"/>
<text x="233" y="568" font-size="4.8" text-anchor="middle" stroke="none" transform="rotate(-90 233 568)" font-weight="bold">53±0. 23</text>
<line x1="341.6" y1="559.3" x2="355.4" y2="559.3" stroke-width="0.68"/>
<line x1="341.6" y1="576.7" x2="355.4" y2="576.7" stroke-width="0.68"/>
<line x1="353.8" y1="530" x2="353.8" y2="576.7" stroke-width="0.68"/>
<path d="M353.8 559.3 L353 556.3 L354.6 556.3Z" fill="#231815" stroke="none"/>
<path d="M353.8 576.7 L354.6 579.7 L353 579.7Z" fill="#231815" stroke="none"/>
<text x="352.2" y="546" font-size="4.8" text-anchor="middle" stroke="none" transform="rotate(-90 352.2 546)" font-weight="bold">Ø25. 1</text>
<text x="351.6" y="531.5" font-size="2.8" text-anchor="middle" stroke="none" transform="rotate(-90 351.6 531.5)" font-weight="bold">+0.15</text>
<text x="354.2" y="533" font-size="2.8" text-anchor="middle" stroke="none" transform="rotate(-90 354.2 533)" font-weight="bold">0</text>
<path d="M223.7 609.5 H341.4 V624 M225.4 609.5 V624" fill="none" stroke-width="1.01"/>
<path d="M266.6 609.5 H341.4 V611.6 H313 L285.7 624 H256.6Z" fill="url(#hx)" stroke-width="0.68"/>
<rect x="313" y="611.6" width="28.4" height="12.6" fill="#fff" stroke-width="0.88"/>
<line x1="313" y1="618.7" x2="341.4" y2="618.7" stroke-width="1.22"/>
<rect x="276.2" y="600" width="11.6" height="24.4" fill="#fff" stroke-width="0.94"/>
<line x1="278.6" y1="600" x2="278.6" y2="624" stroke-width="0.74"/>
<line x1="281.3" y1="603" x2="281.3" y2="624" stroke-width="0.74"/>
<line x1="284.9" y1="600" x2="284.9" y2="624" stroke-width="0.74"/>
<line x1="271.2" y1="605.3" x2="302.7" y2="605.3" stroke-width="0.68"/>
<line x1="278.6" y1="595.4" x2="278.6" y2="600" stroke-width="0.68"/>
<line x1="284.9" y1="595.4" x2="284.9" y2="600" stroke-width="0.68"/>
<line x1="276.5" y1="599" x2="287" y2="599" stroke-width="0.68"/>
<line x1="341.6" y1="609" x2="341.6" y2="624" stroke-width="1.62"/>
<text x="282" y="598.2" font-size="4.4" text-anchor="middle" stroke="none" font-weight="bold">3. 6</text>
<text x="297.6" y="604.2" font-size="4.4" text-anchor="middle" stroke="none" font-weight="bold">4. 5</text>
<rect x="462.5" y="524" width="12.1" height="42.7" fill="none" stroke-width="0.88"/>
<line x1="462.5" y1="539.1" x2="474.6" y2="539.1" stroke-width="0.74"/>
<rect x="417.5" y="569.5" width="41.4" height="11.2" fill="none" stroke-width="0.88"/>
<line x1="432.6" y1="569.5" x2="432.6" y2="580.7" stroke-width="0.74"/>
<rect x="478.3" y="569.5" width="40.3" height="11.2" fill="none" stroke-width="0.88"/>
<line x1="504.6" y1="569.5" x2="504.6" y2="580.7" stroke-width="0.74"/>
<line x1="519.2" y1="568.8" x2="519.2" y2="581.4" stroke-width="1.62"/>
<line x1="468.6" y1="521" x2="468.6" y2="599.4" stroke-width="0.74"/>
<line x1="414.7" y1="575.3" x2="522.6" y2="575.3" stroke-width="0.74"/>
<path d="M460 569 Q460 566.7 462.4 566.7 H474.8 Q476 566.7 476 569 V581 Q476 583 474 583 H462 Q460 583 460 581Z" fill="#fff" stroke-width="1.22"/>
<path d="M458.9 569.5 L460 571 M458.9 580.7 L460 579.4 M478.3 569.5 L476 571 M478.3 580.7 L476 579.4" fill="none" stroke-width="0.68"/>
<circle cx="468.6" cy="575.3" r="7.2" fill="none" stroke-width="1.49"/>
<circle cx="468.6" cy="575.3" r="5.2" fill="none" stroke-width="0.94"/>
<circle cx="468.6" cy="575.3" r="3" fill="#231815" stroke-width="0.68"/>
<line x1="461.6" y1="575.3" x2="475.6" y2="575.3" stroke-width="0.68"/>
<line x1="417.5" y1="552" x2="417.5" y2="569.5" stroke-width="0.68"/>
<line x1="417.5" y1="553.8" x2="467.6" y2="553.8" stroke-width="0.68"/>
<path d="M417.5 553.8 L420.5 553 L420.5 554.6Z" fill="#231815" stroke="none"/>
<path d="M467.6 553.8 L464.6 554.6 L464.6 553Z" fill="#231815" stroke="none"/>
<text x="443.4" y="552.8" font-size="3.8" text-anchor="middle" stroke="none" font-weight="bold">114</text>
<path d="M462 583 L459.6 590.9 H478.6 L475.4 583" fill="#fff" stroke-width="0.94"/>
<line x1="463" y1="583.4" x2="462.4" y2="590.6" stroke-width="0.74"/>
<line x1="465.2" y1="583.4" x2="464.6" y2="590.6" stroke-width="0.74"/>
<line x1="467.4" y1="583.4" x2="466.8" y2="590.6" stroke-width="0.74"/>
<line x1="470" y1="583.4" x2="470.6" y2="590.6" stroke-width="0.74"/>
<line x1="472.2" y1="583.4" x2="472.8" y2="590.6" stroke-width="0.74"/>
<line x1="474.4" y1="583.4" x2="475" y2="590.6" stroke-width="0.74"/>
<path d="M452.8 590.9 H484.7 V593.8 H452.8Z" fill="#fff" stroke-width="0.94"/>
<line x1="452.8" y1="593.8" x2="452.8" y2="606.4" stroke-width="0.68"/>
<line x1="484.7" y1="593.8" x2="484.7" y2="606.4" stroke-width="0.68"/>
<rect x="453.6" y="587.2" width="4.2" height="12.8" fill="#fff" stroke-width="0.94"/>
<line x1="455.7" y1="586" x2="455.7" y2="601.4" stroke-width="0.68"/>
<line x1="453.6" y1="593.6" x2="457.8" y2="593.6" stroke-width="0.68"/>
<rect x="459" y="584" width="2" height="6.6" fill="#231815" stroke="none"/>
<text x="436.4" y="586.6" font-size="3.4" text-anchor="start" stroke="none" font-weight="bold">2-Ø5. 5</text>
<line x1="436" y1="587.4" x2="460" y2="587.4" stroke-width="0.68"/>
<text x="438.4" y="598.4" font-size="3.4" text-anchor="start" stroke="none" font-weight="bold">4-Ø5. 5</text>
<line x1="437.3" y1="599.2" x2="459" y2="599.2" stroke-width="0.68"/>
<line x1="452.8" y1="604.4" x2="484.7" y2="604.4" stroke-width="0.68"/>
<path d="M452.8 604.4 L456.6 603.4 L456.6 605.4Z" fill="#231815" stroke="none"/>
<path d="M484.7 604.4 L480.9 605.4 L480.9 603.4Z" fill="#231815" stroke="none"/>
<text x="469" y="603.4" font-size="3.6" text-anchor="middle" stroke="none" font-weight="bold">Ø74</text>
<line x1="484.7" y1="596.5" x2="502" y2="596.5" stroke-width="0.68"/>
<line x1="500.5" y1="576.4" x2="500.5" y2="596.5" stroke-width="0.68"/>
<path d="M500.5 576.4 L501.3 579.4 L499.7 579.4Z" fill="#231815" stroke="none"/>
<path d="M500.5 596.5 L499.7 593.5 L501.3 593.5Z" fill="#231815" stroke="none"/>
<text x="499.4" y="586" font-size="3.4" text-anchor="middle" stroke="none" transform="rotate(-90 499.4 586)" font-weight="bold">40. 5</text>
<path d="M452.4 613 H483.7 L488 615.9 H497.8" fill="none" stroke-width="0.74"/>
<line x1="452.4" y1="613" x2="483.7" y2="613" stroke-width="1.49"/>
<text x="489.4" y="615" font-size="3.4" text-anchor="start" stroke="none" font-weight="bold">胶垫</text>
<line x1="455.6" y1="618.6" x2="455.6" y2="624" stroke-width="0.68"/>
<line x1="481.5" y1="618.6" x2="481.5" y2="624" stroke-width="0.68"/>
<line x1="455.6" y1="620.6" x2="481.5" y2="620.6" stroke-width="0.68"/>
<path d="M455.6 620.6 L459.4 619.6 L459.4 621.6Z" fill="#231815" stroke="none"/>
<path d="M481.5 620.6 L477.7 621.6 L477.7 619.6Z" fill="#231815" stroke="none"/>
<text x="468.4" y="619.6" font-size="3.4" text-anchor="middle" stroke="none" font-weight="bold">Ø44</text>
<path d="M462 624 Q469 621.6 476 624Z" fill="#231815" stroke-width="0.81"/>
</g>
</svg>
</body></html>
